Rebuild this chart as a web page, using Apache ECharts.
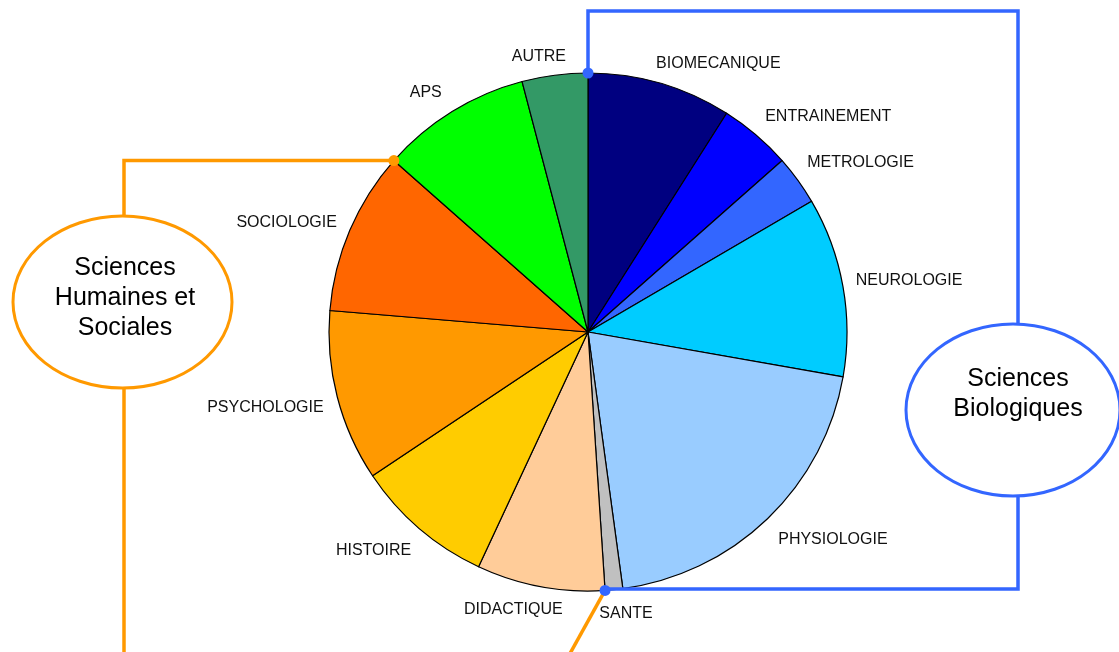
<!DOCTYPE html>
<html><head><meta charset="utf-8">
<script src="https://cdn.jsdelivr.net/npm/echarts@6/dist/echarts.min.js"></script>
<style>html,body{margin:0;padding:0;background:#fff}#c{width:1119px;height:652px}</style>
</head><body><div id="c"></div>
<script>
// ---- data ----
const categories = ['BIOMECANIQUE','ENTRAINEMENT','METROLOGIE','NEUROLOGIE','PHYSIOLOGIE','SANTE','DIDACTIQUE','HISTOIRE','PSYCHOLOGIE','SOCIOLOGIE','APS','AUTRE'];
const values = [9.0, 4.5, 3.1, 11.2, 20.1, 1.1, 8.0, 8.7, 10.7, 10.2, 9.4, 4.1];
const sliceColors = ['#000080','#0000FF','#3366FF','#00CCFF','#99CCFF','#C0C0C0','#FFCC99','#FFCC00','#FF9900','#FF6600','#00FF00','#339966'];
const groupHumaines = 'Sciences\nHumaines et\nSociales';
const groupBio = 'Sciences\nBiologiques';

// ---- layout ----
const CX = 588, CY = 332, R = 259;
const ORANGE = '#FF9900', BLUE = '#3366FF';
// small label nudges (px) so labels sit where the original placed them
const labelNudge = [[-13,-6],[-5,-8],[-7,-9],[-6,-3],[-4,11],[-21,10],[30,9],[6,11],[5,7],[5,-2],[2,-7],[18,-5]];

const total = values.reduce((a, b) => a + b, 0);
function boundaryPoint(idx) {
  let s = 0;
  for (let i = 0; i < idx; i++) s += values[i];
  const a = s / total * 2 * Math.PI;
  return [CX + R * Math.sin(a), CY - R * Math.cos(a)];
}
const pTop = boundaryPoint(0);
const pBottom = boundaryPoint(categories.indexOf('DIDACTIQUE'));
const pLeft = boundaryPoint(categories.indexOf('APS'));

const chart = echarts.init(document.getElementById('c'), null, {renderer: 'canvas'});
const font = '"Liberation Sans", Arial, sans-serif';

const lineStyle = (c) => ({stroke: c, lineWidth: 3.5, fill: null});
const dir = [pBottom[0] - 35 / 63 * 80, pBottom[1] + 80];

chart.setOption({
  animation: false,
  backgroundColor: '#fff',
  series: [{
    type: 'pie',
    center: [CX, CY],
    radius: R,
    startAngle: 90,
    clockwise: true,
    avoidLabelOverlap: false,
    data: categories.map((n, i) => ({name: n, value: values[i], itemStyle: {color: sliceColors[i]}})),
    itemStyle: {borderColor: '#000', borderWidth: 1.2},
    label: {show: true, position: 'outside', formatter: '{b}', fontSize: 16, fontFamily: font, color: '#111'},
    labelLine: {show: false, length: 14, length2: 0},
    labelLayout: function (p) { const n = labelNudge[p.dataIndex]; return {dx: n[0], dy: n[1]}; },
    emphasis: {disabled: true}
  }],
  graphic: [
    // orange connectors
    {type: 'polyline', z: 100, shape: {points: [pLeft, [124, pLeft[1]], [124, 660]]}, style: lineStyle(ORANGE)},
    {type: 'polyline', z: 100, shape: {points: [pBottom, dir]}, style: lineStyle(ORANGE)},
    // blue connectors
    {type: 'polyline', z: 100, shape: {points: [pTop, [pTop[0], 11], [1018, 11], [1018, 589], [pBottom[0], 589]]}, style: lineStyle(BLUE)},
    // ellipses
    {type: 'ellipse', z: 101, shape: {cx: 122.5, cy: 302, rx: 109.5, ry: 86}, style: {fill: '#fff', stroke: ORANGE, lineWidth: 3}},
    {type: 'ellipse', z: 101, shape: {cx: 1013, cy: 410, rx: 107, ry: 86}, style: {fill: '#fff', stroke: BLUE, lineWidth: 3}},
    {type: 'text', z: 102, style: {text: groupHumaines, x: 125, y: 298, align: 'center', verticalAlign: 'middle', font: '25px ' + font, lineHeight: 30, fill: '#000'}},
    {type: 'text', z: 102, style: {text: groupBio, x: 1018, y: 394, align: 'center', verticalAlign: 'middle', font: '25px ' + font, lineHeight: 30, fill: '#000'}},
    // dots
    {type: 'circle', z: 103, shape: {cx: pLeft[0], cy: pLeft[1], r: 5.5}, style: {fill: ORANGE}},
    {type: 'circle', z: 103, shape: {cx: pTop[0], cy: pTop[1], r: 5.5}, style: {fill: BLUE}},
    {type: 'circle', z: 103, shape: {cx: pBottom[0], cy: pBottom[1], r: 5.5}, style: {fill: BLUE}}
  ]
});
</script>
</body></html>
